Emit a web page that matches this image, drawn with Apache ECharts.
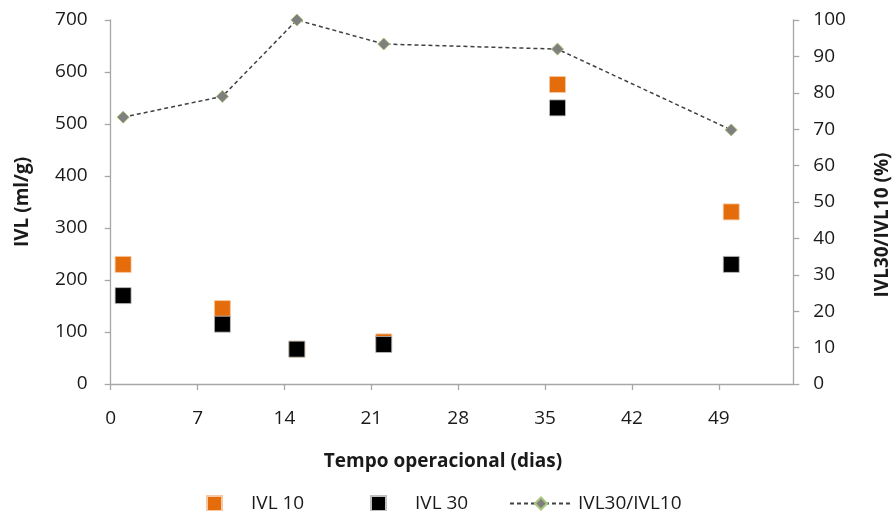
<!DOCTYPE html>
<html>
<head>
<meta charset="utf-8">
<script src="https://cdn.jsdelivr.net/npm/echarts@6/dist/echarts.min.js"></script>
<style>
html,body{margin:0;padding:0;background:#fff;}
#chart{width:896px;height:511px;}
</style>
</head>
<body>
<div id="chart"></div>
<script>
const days = [1, 9, 15, 22, 36, 50];
const ivl10 = [230, 145, 67, 81, 576, 331];
const ivl30 = [170, 115, 67, 76, 531, 230];
const ratio = [73.3, 79, 100, 93.4, 92.0, 69.8];
const xTicks = [0, 7, 14, 21, 28, 35, 42, 49];
const leftTicks = [0, 100, 200, 300, 400, 500, 600, 700];
const rightTicks = [0, 10, 20, 30, 40, 50, 60, 70, 80, 90, 100];

const FONT = '"Open Sans"';
const txtColor = '#1a1a1a';
const axisColor = '#a6a6a6';
const FS = 19;

const chart = echarts.init(document.getElementById('chart'));
chart.setOption({
  animation: false,
  backgroundColor: '#fff',
  textStyle: { fontFamily: FONT },
  grid: { left: 110.7, right: 896 - 793.3, top: 20, bottom: 511 - 384, containLabel: false },
  xAxis: {
    type: 'value', min: 0, max: 55, interval: 7,
    axisLine: { show: true, lineStyle: { color: axisColor, width: 1.3 } },
    axisTick: { show: true, length: 6, customValues: xTicks, lineStyle: { color: axisColor, width: 1.3 } },
    axisLabel: { customValues: xTicks, margin: 25, fontSize: FS, color: txtColor, fontFamily: FONT },
    splitLine: { show: false }
  },
  yAxis: [
    {
      type: 'value', min: 0, max: 700, interval: 100, position: 'left',
      axisLine: { show: true, lineStyle: { color: axisColor, width: 1.3 } },
      axisTick: { show: true, length: 6, customValues: leftTicks, lineStyle: { color: axisColor, width: 1.3 } },
      axisLabel: { customValues: leftTicks, margin: 23, fontSize: FS, color: txtColor, fontFamily: FONT },
      splitLine: { show: false }
    },
    {
      type: 'value', min: 0, max: 100, interval: 10, position: 'right',
      axisLine: { show: true, lineStyle: { color: axisColor, width: 1.3 } },
      axisTick: { show: true, length: 6, customValues: rightTicks, lineStyle: { color: axisColor, width: 1.3 } },
      axisLabel: { customValues: rightTicks, margin: 20, fontSize: FS, color: txtColor, fontFamily: FONT },
      splitLine: { show: false }
    }
  ],
  legend: [
    {
      data: ['IVL 10'], left: 206, top: 494, padding: 0, itemWidth: 15, itemHeight: 15, icon: 'rect',
      textStyle: { fontSize: FS, color: txtColor, fontFamily: FONT, padding: [0, 0, 0, 24] }
    },
    {
      data: ['IVL 30'], left: 370, top: 494, padding: 0, itemWidth: 15, itemHeight: 15, icon: 'rect',
      textStyle: { fontSize: FS, color: txtColor, fontFamily: FONT, padding: [0, 0, 0, 24] }
    },
    {
      data: ['IVL30/IVL10'], left: 509, top: 494, padding: 0, itemWidth: 62, itemHeight: 15,
      textStyle: { fontSize: FS, color: txtColor, fontFamily: FONT, padding: [0, 0, 0, 1] }
    }
  ],
  graphic: [
    { type: 'text', x: 443, y: 462, style: { text: 'Tempo operacional (dias)', align: 'center', verticalAlign: 'middle', font: 'bold 19px ' + FONT, fill: txtColor } },
    { type: 'text', x: 23, y: 202, rotation: Math.PI / 2, style: { text: 'IVL (ml/g)', align: 'center', verticalAlign: 'middle', font: 'bold 19px ' + FONT, fill: txtColor } },
    { type: 'text', x: 883, y: 225, rotation: Math.PI / 2, style: { text: 'IVL30/IVL10 (%)', align: 'center', verticalAlign: 'middle', font: 'bold 19px ' + FONT, fill: txtColor } }
  ],
  series: [
    {
      name: 'IVL 10', type: 'scatter', yAxisIndex: 0,
      data: days.map((d, i) => [d, ivl10[i]]),
      symbol: 'rect', symbolSize: 16,
      itemStyle: { color: '#e46c0a', borderColor: '#f6c9a4', borderWidth: 0.8, opacity: 1 },
      z: 2
    },
    {
      name: 'IVL 30', type: 'scatter', yAxisIndex: 0,
      data: days.map((d, i) => [d, ivl30[i]]),
      symbol: 'rect', symbolSize: 16,
      itemStyle: { color: '#000000', borderColor: '#bfbfbf', borderWidth: 0.8, opacity: 1 },
      z: 3
    },
    {
      name: 'IVL30/IVL10', type: 'line', yAxisIndex: 1,
      data: days.map((d, i) => [d, ratio[i]]),
      symbol: 'diamond', symbolSize: 12, showAllSymbol: true,
      lineStyle: { color: '#404040', width: 1.5, type: [4, 3] },
      itemStyle: { color: '#7f7f7f', borderColor: '#a9c47f', borderWidth: 1 },
      z: 4
    }
  ]
});
</script>
</body>
</html>
